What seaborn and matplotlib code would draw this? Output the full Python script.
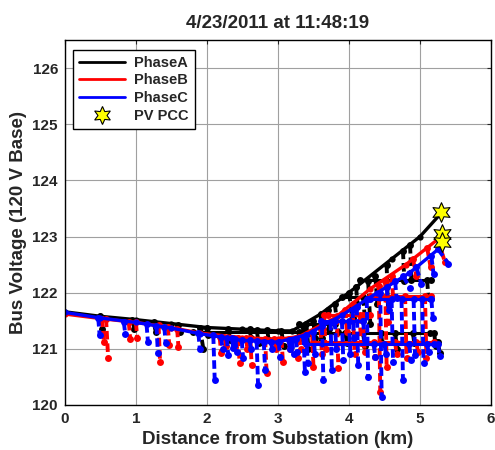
import numpy as np
import pandas as pd
import matplotlib
matplotlib.use('Agg')
import matplotlib.pyplot as plt
from matplotlib.lines import Line2D
import seaborn as sns

# main feeder trunks, distance (km) and voltage (120 V base)
trunk_a_km = [0.0, 0.5, 1.0, 1.5, 2.0, 2.5, 3.0, 3.2, 3.6, 4.1, 4.6, 5.0, 5.3]
trunk_a_v = [121.66, 121.58, 121.52, 121.45, 121.38, 121.35, 121.32, 121.32, 121.62, 122.1, 122.6, 123.0, 123.42]
trunk_b_km = [0.0, 0.5, 1.0, 1.5, 1.9, 2.5, 3.0, 3.3, 3.8, 4.3, 4.8, 5.25]
trunk_b_v = [121.62, 121.54, 121.47, 121.38, 121.28, 121.2, 121.17, 121.22, 121.55, 122.07, 122.5, 122.95]
trunk_c_km = [0.0, 0.5, 1.0, 1.5, 1.9, 2.5, 3.0, 3.4, 3.9, 4.4, 4.85, 5.3]
trunk_c_v = [121.65, 121.55, 121.47, 121.37, 121.27, 121.15, 121.12, 121.25, 121.6, 122.0, 122.35, 122.82]

# solid side branches: start km, end km, voltage
branch_a_x0 = [4.15, 3.45, 3.6, 3.9, 1.8, 3.3]
branch_a_x1 = [5.16, 5.14, 5.24, 4.3, 3.3, 3.8]
branch_a_v = [122.22, 121.28, 121.12, 121.92, 121.3, 121.45]
branch_b_x0 = [4.3, 3.5, 3.7]
branch_b_x1 = [5.15, 5.2, 4.3]
branch_b_v = [121.95, 121.12, 121.6]
branch_c_x0 = [4.3, 3.4, 3.6]
branch_c_x1 = [5.15, 5.2, 4.2]
branch_c_v = [121.88, 121.08, 121.5]

# dashed laterals: start km, start voltage, end km, end voltage
lat_a_x0 = [0.50, 0.95, 1.25, 1.90, 2.30, 2.70, 3.05, 3.40, 3.60, 3.80, 4.00, 4.27, 4.37, 4.53, 4.76, 4.86, 5.10, 5.20, 4.65, 5.25,
            3.35, 3.50, 3.70, 3.95, 4.20, 4.45, 4.90, 4.10, 4.20, 2.00, 2.60, 2.85, 1.60]
lat_a_v0 = [121.58, 121.52, 121.48, 121.38, 121.36, 121.34, 121.32, 121.45, 121.62, 121.8, 122.0, 122.2, 122.3, 122.5, 122.75, 122.85, 122.22, 121.28, 121.28, 121.12,
            121.4, 121.5, 121.7, 121.28, 121.28, 121.28, 121.28, 122.1, 121.92, 121.38, 121.35, 121.33, 121.43]
lat_a_x1 = [0.52, 0.98, 1.28, 1.95, 2.33, 2.73, 3.08, 3.43, 3.62, 3.85, 4.05, 4.30, 4.40, 4.55, 4.78, 4.88, 5.12, 5.22, 4.68, 5.28,
            3.37, 3.52, 3.72, 3.97, 4.22, 4.47, 4.92, 4.12, 4.22, 2.02, 2.62, 2.87, 1.62]
lat_a_v1 = [121.35, 121.35, 121.3, 121.0, 121.15, 121.1, 121.05, 121.0, 121.2, 121.3, 121.55, 121.45, 121.8, 121.7, 122.2, 122.22, 121.9, 121.05, 121.0, 120.92,
            121.15, 121.2, 121.35, 121.1, 121.05, 121.1, 121.1, 121.8, 121.6, 121.25, 121.2, 121.15, 121.3]

lat_b_x0 = [0.52, 0.58, 0.90, 1.00, 1.32, 1.45, 1.58, 2.18, 2.25, 2.37, 2.44, 2.55, 2.61, 2.82, 2.95, 3.05, 3.15, 3.26, 3.48, 3.83,
            4.05, 4.42, 4.51, 4.79, 5.07, 4.52, 4.90, 5.10, 5.25, 3.65, 4.20,
            3.60, 3.95, 4.15, 4.35, 4.65, 4.95, 3.30, 4.60]
lat_b_v0 = [121.54, 121.54, 121.48, 121.47, 121.42, 121.39, 121.36, 121.21, 121.2, 121.2, 121.2, 121.19, 121.19, 121.18, 121.18, 121.17, 121.18, 121.2, 121.3, 121.58,
            121.8, 122.12, 122.2, 121.95, 121.95, 122.2, 122.6, 122.8, 122.95, 121.6, 121.6,
            121.35, 121.7, 121.6, 121.12, 121.12, 121.12, 121.22, 122.3]
lat_b_x1 = [0.55, 0.61, 0.92, 1.02, 1.34, 1.47, 1.60, 2.20, 2.27, 2.40, 2.46, 2.57, 2.63, 2.84, 2.97, 3.07, 3.17, 3.28, 3.50, 3.85,
            4.08, 4.44, 4.53, 4.81, 5.09, 4.55, 4.95, 5.15, 5.35, 3.67, 4.22,
            3.62, 3.97, 4.17, 4.37, 4.67, 4.97, 3.32, 4.62]
lat_b_v1 = [121.12, 120.83, 121.18, 121.2, 120.77, 121.07, 121.03, 120.92, 121.05, 121.03, 120.74, 121.0, 120.71, 120.57, 121.0, 120.77, 121.0, 120.83, 120.68, 120.66,
            120.9, 120.24, 120.68, 120.83, 120.83, 121.48, 122.3, 122.45, 122.55, 121.0, 120.95,
            120.9, 121.3, 121.1, 120.85, 120.9, 120.95, 121.0, 121.95]

lat_c_x0 = [0.47, 0.83, 1.15, 1.29, 1.40, 1.88, 2.09, 2.20, 2.28, 2.35, 2.49, 2.60, 2.70, 2.80, 2.90, 3.01, 3.15, 3.25, 3.36, 3.40,
            3.62, 3.74, 4.11, 4.25, 4.44, 4.60, 4.74, 4.91, 5.03, 5.16, 4.53, 4.76, 4.95, 5.16, 5.25, 5.25, 3.90, 4.00,
            3.50, 3.80, 4.05, 4.35, 4.50, 4.85, 5.10, 4.20, 4.65, 3.20, 2.40]
lat_c_v0 = [121.55, 121.48, 121.44, 121.41, 121.39, 121.28, 121.24, 121.21, 121.2, 121.19, 121.16, 121.15, 121.14, 121.13, 121.13, 121.12, 121.15, 121.18, 121.22, 121.25,
            121.4, 121.48, 121.75, 121.88, 122.0, 121.88, 121.88, 121.88, 121.88, 121.88, 122.1, 122.3, 122.45, 122.65, 122.78, 121.08, 121.5, 121.5,
            121.3, 121.5, 121.7, 121.08, 121.08, 121.08, 121.08, 121.5, 122.2, 121.15, 121.17]
lat_c_x1 = [0.49, 0.85, 1.17, 1.31, 1.42, 1.90, 2.11, 2.22, 2.30, 2.37, 2.51, 2.62, 2.72, 2.82, 2.92, 3.03, 3.17, 3.27, 3.38, 3.42,
            3.64, 3.76, 4.13, 4.27, 4.46, 4.62, 4.76, 4.93, 5.05, 5.18, 4.56, 4.86, 5.02, 5.19, 5.40, 5.28, 3.92, 4.02,
            3.52, 3.82, 4.07, 4.37, 4.52, 4.87, 5.12, 4.22, 4.67, 3.22, 2.42]
lat_c_v1 = [121.24, 121.27, 121.12, 120.92, 121.1, 121.0, 120.44, 121.0, 120.89, 121.02, 120.83, 121.0, 120.36, 120.62, 121.0, 120.86, 121.0, 120.95, 120.59, 120.74,
            120.44, 120.62, 120.71, 120.5, 120.15, 120.77, 120.44, 120.89, 120.74, 121.55, 121.69, 122.08, 122.15, 122.34, 122.52, 120.88, 120.8, 120.9,
            120.9, 121.0, 121.2, 120.85, 120.9, 120.8, 120.95, 121.15, 121.9, 120.9, 120.95]

# PV point of common coupling, one per phase
pcc_km = [5.3, 5.31, 5.31]
pcc_v = [123.43, 123.05, 122.9]

phases = ['PhaseA', 'PhaseB', 'PhaseC']
colors = ['black', 'red', 'blue']


def seg_frame(x0, v0, x1, v1):
    rows = []
    for i in range(len(x0)):
        rows.append((i, x0[i], v0[i]))
        rows.append((i, x1[i], v1[i]))
    return pd.DataFrame(rows, columns=['seg', 'km', 'v'])


sns.set_style('white')
plt.rcParams['font.family'] = ['Liberation Sans', 'DejaVu Sans']
plt.rcParams['font.weight'] = 'bold'

fig = plt.figure(figsize=(4.95, 4.5), dpi=100)
ax = fig.add_axes([0.131, 0.1, 0.861, 0.811])

trunks = [(trunk_a_km, trunk_a_v), (trunk_b_km, trunk_b_v), (trunk_c_km, trunk_c_v)]
branches = [(branch_a_x0, branch_a_x1, branch_a_v), (branch_b_x0, branch_b_x1, branch_b_v),
            (branch_c_x0, branch_c_x1, branch_c_v)]
laterals = [(lat_a_x0, lat_a_v0, lat_a_x1, lat_a_v1), (lat_b_x0, lat_b_v0, lat_b_x1, lat_b_v1),
            (lat_c_x0, lat_c_v0, lat_c_x1, lat_c_v1)]

for k in range(3):
    col = colors[k]
    # dashed laterals
    lat = seg_frame(*laterals[k])
    sns.lineplot(data=lat, x='km', y='v', units='seg', estimator=None, sort=False, ax=ax,
                 color=col, lw=2.8, linestyle=(0, (2.2, 1.0)), marker='o', markersize=5,
                 markeredgewidth=0, legend=False)
    # solid branches
    bx0, bx1, bv = branches[k]
    br = seg_frame(bx0, bv, bx1, bv)
    sns.lineplot(data=br, x='km', y='v', units='seg', estimator=None, sort=False, ax=ax,
                 color=col, lw=2.2, marker='o', markersize=5, markeredgewidth=0, legend=False)
    # trunk
    tk, tv = trunks[k]
    sns.lineplot(x=tk, y=tv, ax=ax, color=col, lw=2.4, sort=False, estimator=None,
                 marker='o', markersize=4.5, markeredgewidth=0, legend=False)

sns.scatterplot(x=pcc_km, y=pcc_v, ax=ax, marker=(6, 1, 0), s=200, color='yellow',
                edgecolor='black', linewidth=0.8, zorder=10, legend=False)

ax.set_xlim(0, 6)
ax.set_ylim(120, 126.5)
ax.set_xticks(range(0, 7))
ax.set_yticks(range(120, 127))
ax.grid(True, color='#a0a0a0', lw=0.8)
ax.tick_params(direction='in', top=True, right=True, length=3, labelsize=11, pad=5)
for s in ax.spines.values():
    s.set_color('black')
    s.set_linewidth(1.0)

ax.set_title('4/23/2011 at 11:48:19', fontsize=13.5, fontweight='bold', pad=9)
ax.set_xlabel('Distance from Substation (km)', fontsize=13.5, fontweight='bold', labelpad=4)
ax.set_ylabel('Bus Voltage (120 V Base)', fontsize=13.5, fontweight='bold', labelpad=4)

handles = [Line2D([], [], color=c, lw=2) for c in colors]
handles.append(Line2D([], [], ls='none', marker=(6, 1, 0), markersize=13,
                      markerfacecolor='yellow', markeredgecolor='black', markeredgewidth=0.8))
leg = ax.legend(handles, phases + ['PV PCC'], loc='upper left', bbox_to_anchor=(0.019, 0.973),
                borderaxespad=0, fancybox=False, edgecolor='black', framealpha=1,
                prop={'weight': 'bold', 'size': 10.5}, handlelength=3.2, labelspacing=0.25,
                handletextpad=0.6)
leg.get_frame().set_linewidth(1.0)

fig.savefig('out.png', dpi=100)
